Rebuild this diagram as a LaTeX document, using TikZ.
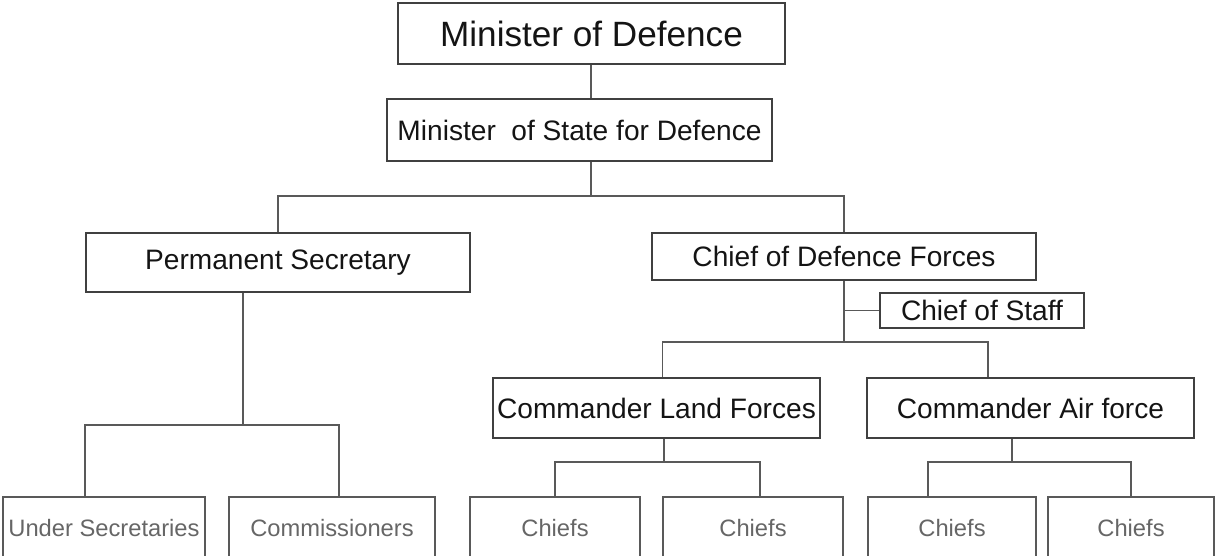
\documentclass[tikz,border=0pt]{standalone}
\usepackage{fontspec}
\setmainfont{Liberation Sans}

\begin{document}
\begin{tikzpicture}[x=0.02cm,y=-0.02cm,
		box/.style={draw=black!75,line width=1pt,inner sep=0pt,text=black!92},
		bigbox/.style={box,font=\fontsize{20}{24}\selectfont},
		midbox/.style={box,font=\fontsize{16}{19}\selectfont},
		lowbox/.style={draw=black!65,line width=1pt,inner sep=0pt,text=black!60,font=\fontsize{13.5}{16}\selectfont,minimum height=1.26cm},
		conn/.style={draw=black!65,line width=1pt}]
		\useasboundingbox (0,0) rectangle (1216,555);
		
		% Nodes
		\node[bigbox,minimum width=7.74cm,minimum height=1.22cm] (mod) at (591.5,33.5) {Minister of Defence};
		\node[midbox,minimum width=7.70cm,minimum height=1.24cm] (mosd) at (579.5,130) {Minister~ of State for Defence};
		\node[midbox,minimum width=7.68cm,minimum height=1.18cm] (ps) at (278,262.5) {Permanent Secretary};
		\node[midbox,minimum width=7.68cm,minimum height=0.94cm] (cdf) at (844,256.5) {Chief of Defence Forces};
		\node[midbox,minimum width=4.08cm,minimum height=0.70cm] (cos) at (982,310.5) {Chief of Staff};
		\node[midbox,minimum width=6.54cm,minimum height=1.20cm] (clf) at (656.5,408) {Commander Land Forces};
		\node[midbox,minimum width=6.54cm,minimum height=1.20cm] (caf) at (1030.5,408) {Commander Air force};
		\node[lowbox,minimum width=4.04cm] (us) at (104,528.5) {Under Secretaries};
		\node[lowbox,minimum width=4.12cm] (com) at (332,528.5) {Commissioners};
		\node[lowbox,minimum width=3.40cm] (ch1) at (555,528.5) {Chiefs};
		\node[lowbox,minimum width=3.60cm] (ch2) at (753,528.5) {Chiefs};
		\node[lowbox,minimum width=3.36cm] (ch3) at (952,528.5) {Chiefs};
		\node[lowbox,minimum width=3.32cm] (ch4) at (1131,528.5) {Chiefs};
		
		% Junctions
		\coordinate (j1) at (591,196);
		\coordinate (j2) at (844,342);
		\coordinate (j3) at (664,462);
		\coordinate (j4) at (1012,462);
		\coordinate (j5) at (243,425);
		
		% Edges
		\draw[conn] (j1 |- mod.south) -- (j1 |- mosd.north);
		\draw[conn] (j1 |- mosd.south) -- (j1);
		\draw[conn] (ps.north) |- (j1) -| (cdf.north);
		\draw[conn] (cdf.south) -- (j2);
		\draw[conn] (cos.west) -- (cos.west -| j2);
		\draw[conn] ([xshift=0.12cm]clf.north) |- (j2) -| ([xshift=-0.85cm]caf.north);
		\draw[conn] (j3 |- clf.south) -- (j3);
		\draw[conn] (ch1.north) |- (j3) -| ([xshift=0.14cm]ch2.north);
		\draw[conn] (j4 |- caf.south) -- (j4);
		\draw[conn] ([xshift=-0.48cm]ch3.north) |- (j4) -| (ch4.north);
		\draw[conn] (j5 |- ps.south) -- (j5);
		\draw[conn] ([xshift=-0.38cm]us.north) |- (j5) -| ([xshift=0.14cm]com.north);
		
	\end{tikzpicture}
\end{document}
